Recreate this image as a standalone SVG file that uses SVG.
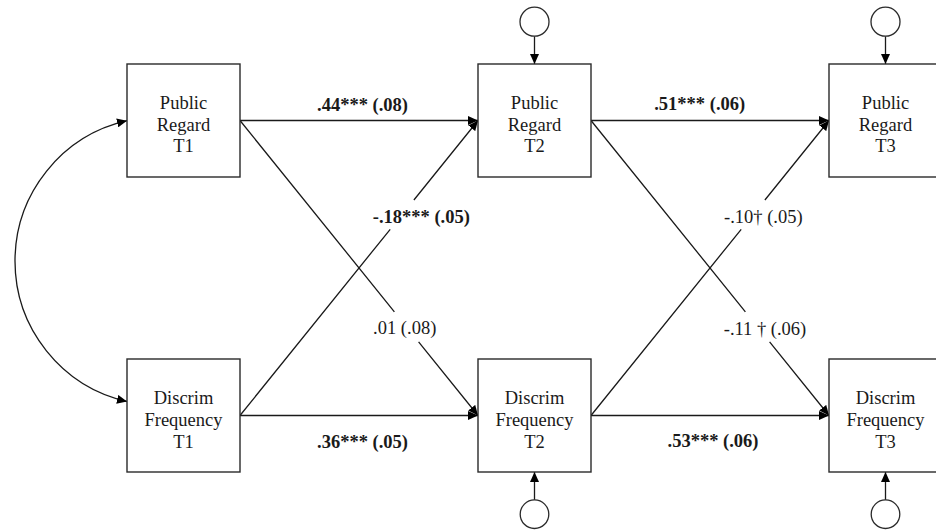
<svg xmlns="http://www.w3.org/2000/svg" width="936" height="531" viewBox="0 0 936 531">
<style>
.box{fill:#fff;stroke:#2a2a2a;stroke-width:1.4}
.err{fill:#fff;stroke:#2a2a2a;stroke-width:1.3}
text{font-family:'Liberation Serif','Tinos','DejaVu Serif',serif;font-size:18.5px;fill:#1a1a1a;text-anchor:middle}
.b{font-weight:bold}
.edge{fill:none;stroke:#1a1a1a;stroke-width:1.3;marker-end:url(#ah)}
</style>
<defs>
<marker id="ah" markerUnits="userSpaceOnUse" markerWidth="11" markerHeight="9" refX="10" refY="4.5" orient="auto-start-reverse" viewBox="0 0 11 9">
<path d="M0,0 L10,4.5 L0,9 z" fill="#000"/>
</marker>
</defs>
<rect width="936" height="531" fill="#fff"/>
<g id="connectors">
<path class="edge" d="M127,120.7 A144,144 0 0 0 127,401.5" marker-start="url(#ah)"/>
<path class="edge" d="M240,120.5 L478,120.5"/>
<path class="edge" d="M591,120.5 L829,120.5"/>
<path class="edge" d="M240,415.5 L478,415.5"/>
<path class="edge" d="M591,415.5 L829,415.5"/>
<path class="edge" d="M240,120.5 L394.4,311.8 M418.6,341.8 L478,415.5"/>
<path class="edge" d="M240,415.5 L390.2,229.3 M413.9,200 L478,120.5"/>
<path class="edge" d="M591,120.5 L745.4,311.8 M769.6,341.8 L829,415.5"/>
<path class="edge" d="M591,415.5 L741.2,229.3 M764.9,200 L829,120.5"/>
<path class="edge" d="M534.5,36.2 L534.5,64"/>
<path class="edge" d="M885.5,36.2 L885.5,64"/>
<path class="edge" d="M534.5,499.8 L534.5,472"/>
<path class="edge" d="M885.5,499.8 L885.5,472"/>
</g>
<g id="edge-labels" font-family="Liberation Serif, serif">
<text class="b" x="362.5" y="111">.44*** (.08)</text>
<text class="b" x="699.7" y="110">.51*** (.06)</text>
<text class="b" x="421.3" y="222.7">-.18*** (.05)</text>
<text x="404.7" y="334">.01 (.08)</text>
<text x="763.3" y="222.7">-.10† (.05)</text>
<text x="765" y="335">-.11 † (.06)</text>
<text class="b" x="362.5" y="447.5">.36*** (.05)</text>
<text class="b" x="713" y="447">.53*** (.06)</text>
</g>
<g id="pr1"><rect class="box" x="127" y="64" width="113" height="113"/>
<text x="183.5" y="109">Public</text><text x="183.5" y="130.5">Regard</text><text x="183.5" y="152">T1</text></g>
<g id="pr2"><rect class="box" x="478" y="64" width="113" height="113"/>
<text x="534.5" y="109">Public</text><text x="534.5" y="130.5">Regard</text><text x="534.5" y="152">T2</text></g>
<g id="pr3"><rect class="box" x="829" y="64" width="113" height="113"/>
<text x="885.5" y="109">Public</text><text x="885.5" y="130.5">Regard</text><text x="885.5" y="152">T3</text></g>
<g id="df1"><rect class="box" x="127" y="359" width="113" height="113"/>
<text x="183.5" y="404">Discrim</text><text x="183.5" y="426">Frequency</text><text x="183.5" y="448">T1</text></g>
<g id="df2"><rect class="box" x="478" y="359" width="113" height="113"/>
<text x="534.5" y="404">Discrim</text><text x="534.5" y="426">Frequency</text><text x="534.5" y="448">T2</text></g>
<g id="df3"><rect class="box" x="829" y="359" width="113" height="113"/>
<text x="885.5" y="404">Discrim</text><text x="885.5" y="426">Frequency</text><text x="885.5" y="448">T3</text></g>
<g id="e-pr2"><circle class="err" cx="534.5" cy="21.7" r="14.5"/></g>
<g id="e-pr3"><circle class="err" cx="885.5" cy="21.7" r="14.5"/></g>
<g id="e-df2"><circle class="err" cx="534.5" cy="514.2" r="14.3"/></g>
<g id="e-df3"><circle class="err" cx="885.5" cy="514.2" r="14.3"/></g>
</svg>
